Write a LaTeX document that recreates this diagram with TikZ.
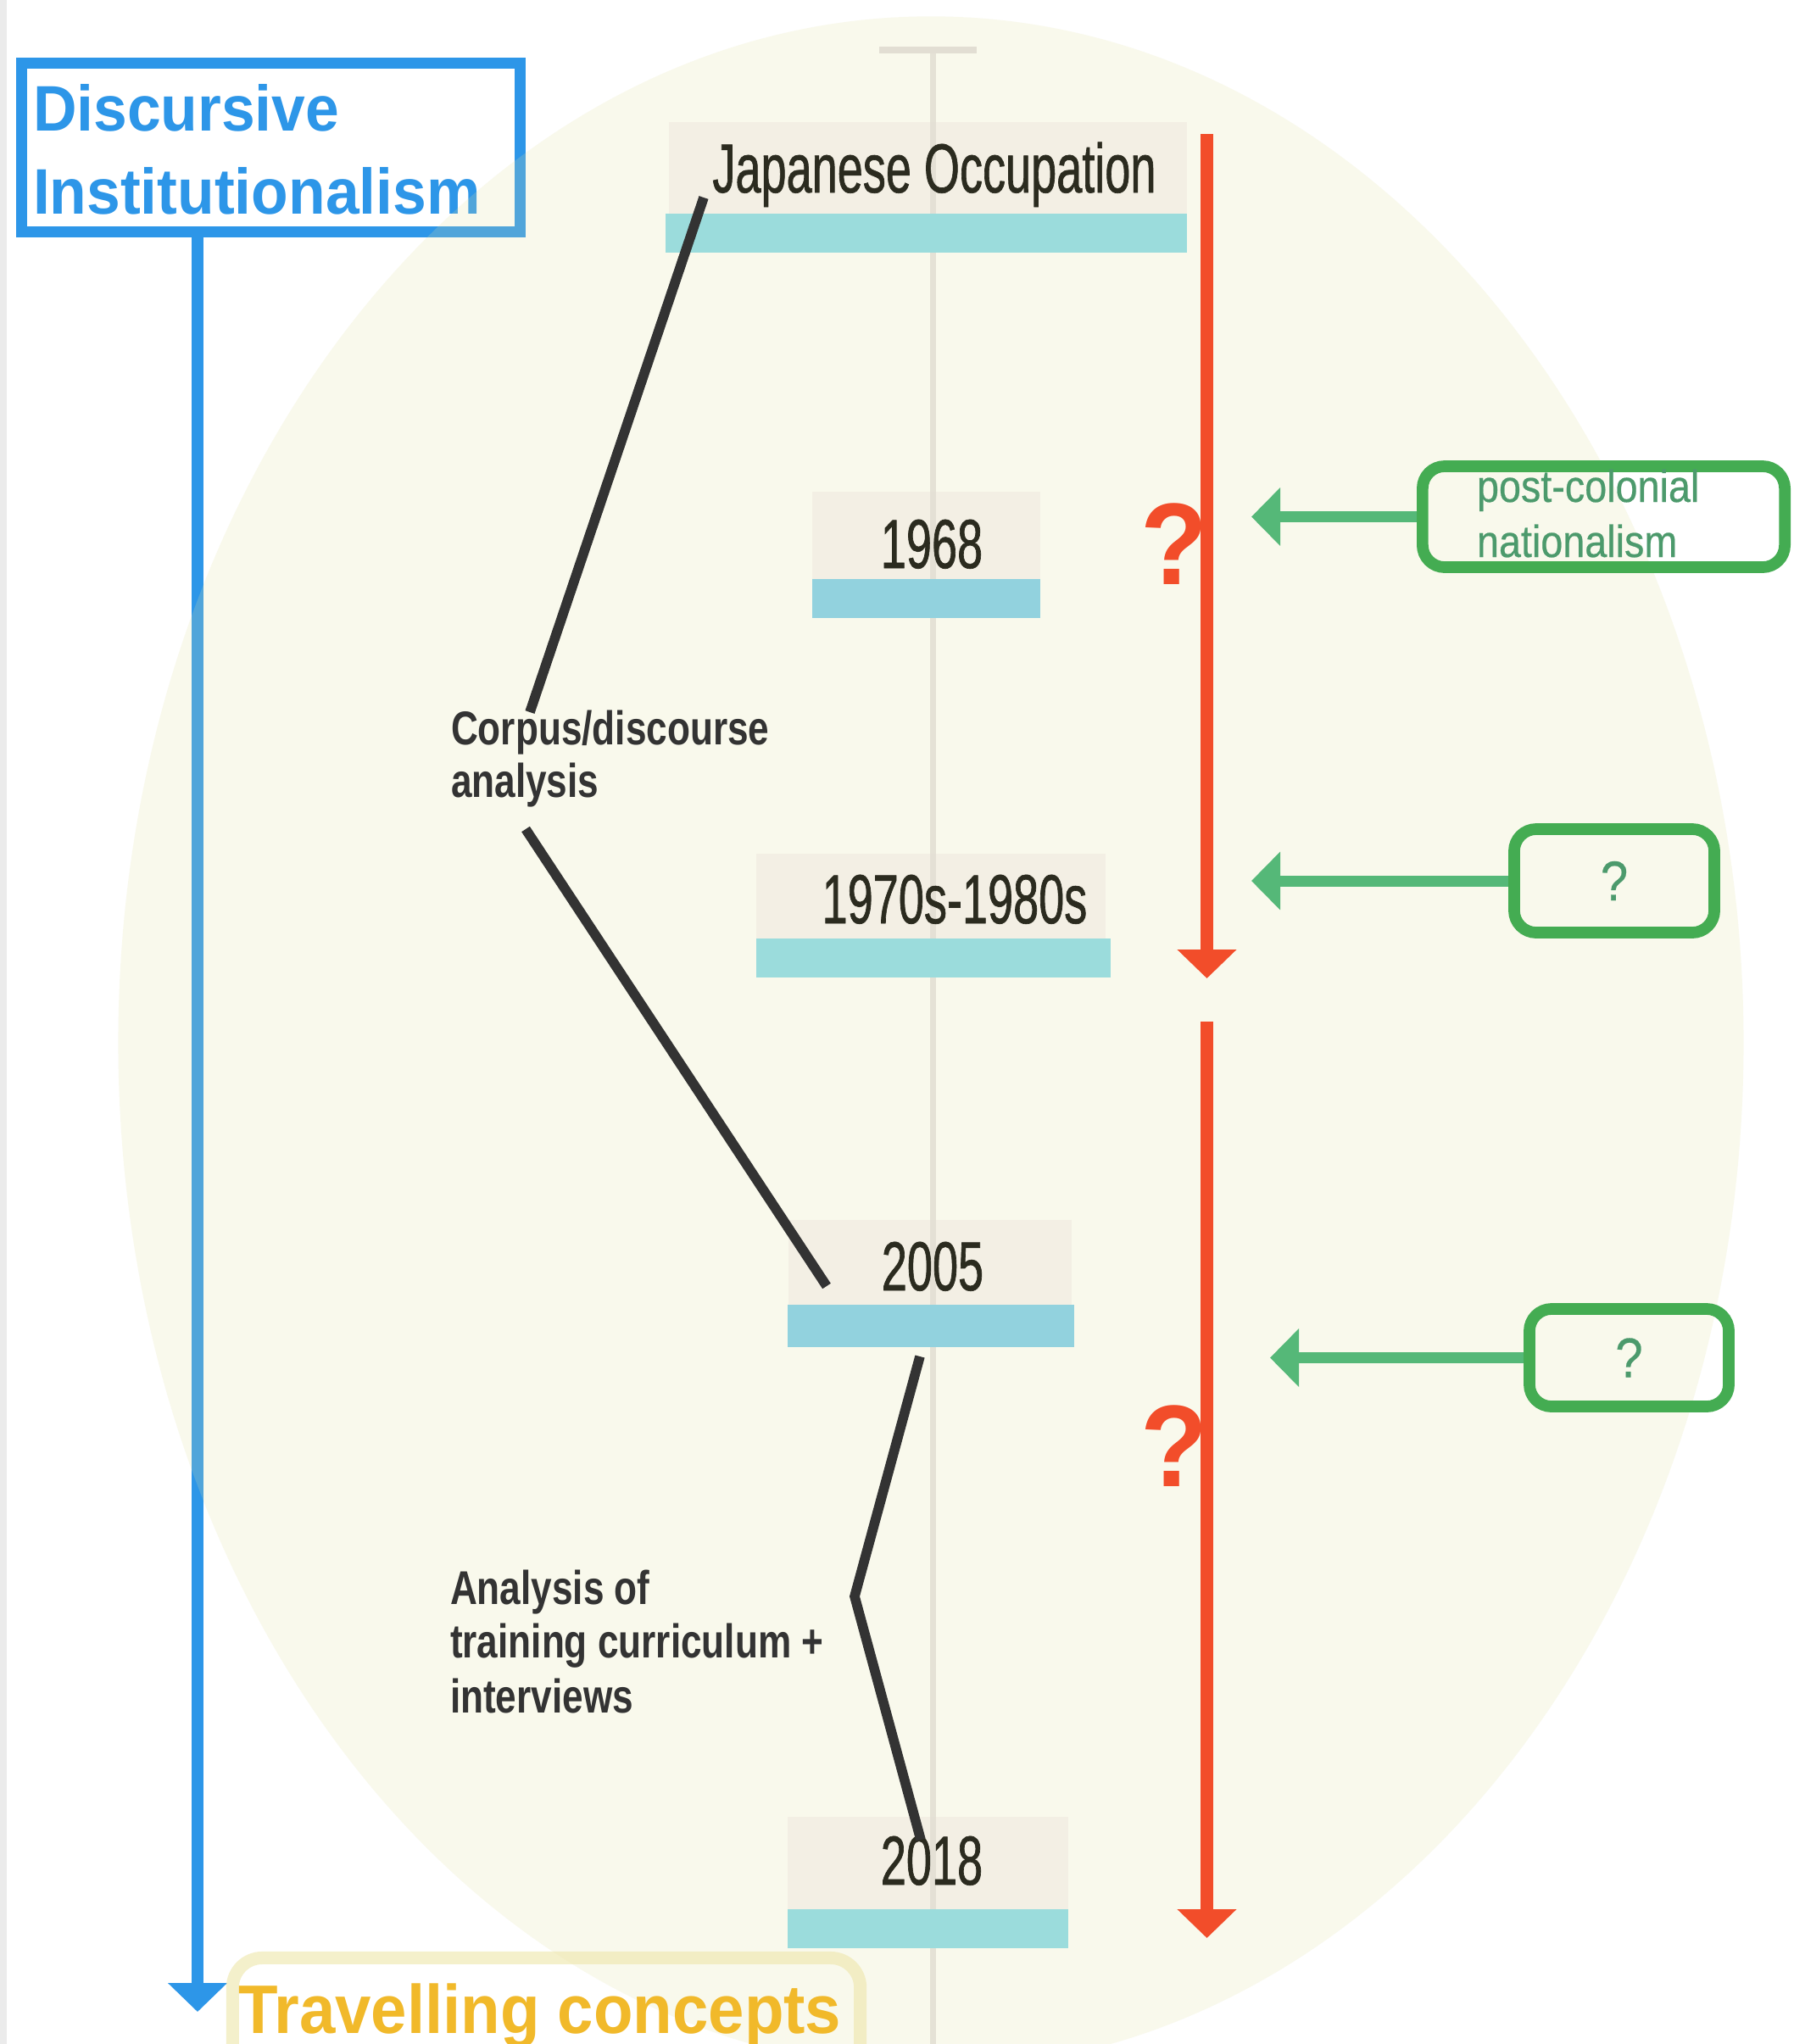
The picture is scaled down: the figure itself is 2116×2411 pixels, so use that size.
\documentclass[tikz,border=0pt]{standalone}
\usepackage{fontspec}
\usetikzlibrary{arrows.meta}
\newfontfamily\fDI[FakeStretch=0.94]{Liberation Sans}
\newfontfamily\fTL[FakeStretch=0.66,FakeBold=0.8]{Liberation Sans}
\newfontfamily\fLB[FakeStretch=0.79]{Liberation Sans}
\newfontfamily\fGR[FakeStretch=0.88,FakeBold=0.4]{Liberation Sans}
\definecolor{diblue}{HTML}{2D96E8}
\definecolor{ellcol}{HTML}{E2E2A4}
\definecolor{beige}{HTML}{F3EFE4}
\definecolor{cyanA}{HTML}{9BDCDC}
\definecolor{cyanB}{HTML}{92D2DE}
\definecolor{tlgrey}{HTML}{E2DED3}
\definecolor{tltext}{HTML}{2B2B1F}
\definecolor{lbtext}{HTML}{333333}
\definecolor{redc}{HTML}{F24D2A}
\definecolor{gboxc}{HTML}{44AC52}
\definecolor{garr}{HTML}{55B878}
\definecolor{gtext}{HTML}{4C9A6C}
\definecolor{tcbox}{HTML}{EFE8B0}
\definecolor{tctext}{HTML}{F1B92A}
\definecolor{stripc}{HTML}{EBEBEB}
\begin{document}
\begin{tikzpicture}[x=0.01cm,y=-0.01cm,
  every node/.style={inner sep=0pt,outer sep=0pt},
  ditxt/.style={font=\fDI\bfseries\fontsize{21.6pt}{21.6pt}\selectfont, text=diblue, anchor=base west},
  tctxt/.style={font=\fDI\bfseries\fontsize{23.05pt}{23.05pt}\selectfont, text=tctext, anchor=base west},
  tltxt/.style={font=\fTL\fontsize{23.3pt}{23.3pt}\selectfont, text=tltext, anchor=base},
  lbtxt/.style={font=\fLB\bfseries\fontsize{15.9pt}{15.9pt}\selectfont, text=lbtext, anchor=base west},
  gtxt/.style={font=\fGR\fontsize{15.1pt}{15.1pt}\selectfont, text=gtext, anchor=base west},
  gbox/.style={draw=gboxc, line width=3.9pt, rounded corners=0.26cm, font=\fGR\fontsize{18.8pt}{18.8pt}\selectfont, text=gtext},
  rq/.style={font=\fDI\bfseries\fontsize{39pt}{39pt}\selectfont, text=redc},
  rarrow/.style={draw=redc, line width=4.1pt, -{Triangle[width=19.35pt,length=9.67pt]}},
  garrow/.style={draw=garr, line width=3.7pt, shorten <=1.9pt, -{Triangle[width=19pt,length=9.67pt]}},
  bline/.style={draw=lbtext, line width=3.3pt},
  beigebox/.style={fill=beige},
]
\useasboundingbox (0,0) rectangle (2116,2411);
\clip (0,0) rectangle (2116,2411);
\fill[white] (0,0) rectangle (2116,2411);
\fill[stripc] (0,0) rectangle (8,2411);

% Discursive Institutionalism
\node[draw=diblue, line width=3.70pt, minimum width=5.88cm, minimum height=1.99cm] (di) at (319.5,174) {};
\node[ditxt] (di1) at (39,154) {Discursive};
\node[ditxt] (di2) at (39,252) {Institutionalism};
\coordinate (bt) at (233,2373);
\draw[draw=diblue, line width=3.98pt, -{Triangle[width=19.35pt,length=9.67pt]}] (di.south -| bt) -- (bt);

% background ellipse
\fill[ellcol, opacity=0.2] (1098,1230) ellipse [x radius=9.58cm, y radius=12.10cm];

% Travelling concepts
\node[draw=tcbox, draw opacity=0.65, line width=4.27pt, rounded corners=0.35cm, minimum width=7.40cm, minimum height=2.0cm] (tc) at (644.5,2409.5) {};
\node[tctxt] (tct) at (281,2398) {Travelling concepts};

% timeline boxes (beige)
\fill[beigebox] (789,144) rectangle (1400,252);
\fill[beigebox] (958,580) rectangle (1227,683);
\fill[beigebox] (892,1007) rectangle (1304,1107);
\fill[beigebox] (930,1439) rectangle (1264,1539);
\fill[beigebox] (929,2143) rectangle (1260,2252);

% timeline axis
\fill[tlgrey] (1037,55) rectangle (1152,63);
\draw[tlgrey, opacity=0.85, line width=1.99pt] (1100,59) -- (1100,2411);

% cyan bars
\fill[cyanA] (785,252) rectangle (1400,298);
\fill[cyanB] (958,683) rectangle (1227,729);
\fill[cyanA] (892,1107) rectangle (1310,1153);
\fill[cyanB] (929,1539) rectangle (1267,1589);
\fill[cyanA] (929,2252) rectangle (1260,2298);

% timeline labels
\node[tltxt] (t1) at (1102,227) {Japanese Occupation};
\node[tltxt] (t2) at (1099,670) {1968};
\node[tltxt] (t3) at (1126,1089) {1970s-1980s};
\node[tltxt] (t4) at (1100,1522) {2005};
\node[tltxt] (t5) at (1099,2223) {2018};

% method labels
\node[lbtxt] (m1a) at (532,878) {Corpus/discourse};
\node[lbtxt] (m1b) at (532,940) {analysis};
\node[lbtxt] (m2a) at (531,1892) {Analysis of};
\node[lbtxt] (m2b) at (531,1955) {training curriculum +};
\node[lbtxt] (m2c) at (531,2020) {interviews};

% black connectors
\coordinate (c1a) at (830,233);
\coordinate (c1b) at (625,840);
\coordinate (c2a) at (620,978);
\coordinate (c2b) at (975,1517);
\coordinate (c3a) at (1085,1600);
\coordinate (c3k) at (1008,1883);
\coordinate (c3b) at (1086,2170);
\draw[bline] (c1a) -- (c1b);
\draw[bline] (c2a) -- (c2b);
\draw[bline] (c3a) -- (c3k) -- (c3b);

% red arrows
\coordinate (r1a) at (1423.5,158);
\coordinate (r1b) at (1423.5,1154);
\coordinate (r2a) at (1423.5,1205);
\coordinate (r2b) at (1423.5,2286);
\draw[rarrow] (r1a) -- (r1b);
\draw[rarrow] (r2a) -- (r2b);
\node[rq] (q1) at (1385,642) {?};
\node[rq] (q2) at (1385,1706) {?};

% green boxes and arrows
\node[gbox, minimum width=4.27cm, minimum height=1.19cm] (g1) at (1891.5,609.5) {};
\node[gtxt] (g1a) at (1742,592) {post-colonial};
\node[gtxt] (g1b) at (1742,657) {nationalism};
\node[gbox, minimum width=2.36cm, minimum height=1.22cm] (g2) at (1904,1039) {?};
\node[gbox, minimum width=2.35cm, minimum height=1.15cm] (g3) at (1921.5,1601.5) {?};
\coordinate (ga1) at (1476,611);
\coordinate (ga2) at (1476,1041);
\coordinate (ga3) at (1498,1604);
\draw[garrow] (g1.west) -- (g1.west -| ga1);
\draw[garrow] (g2.west) -- (g2.west -| ga2);
\draw[garrow] (g3.west) -- (g3.west -| ga3);
\end{tikzpicture}
\end{document}
